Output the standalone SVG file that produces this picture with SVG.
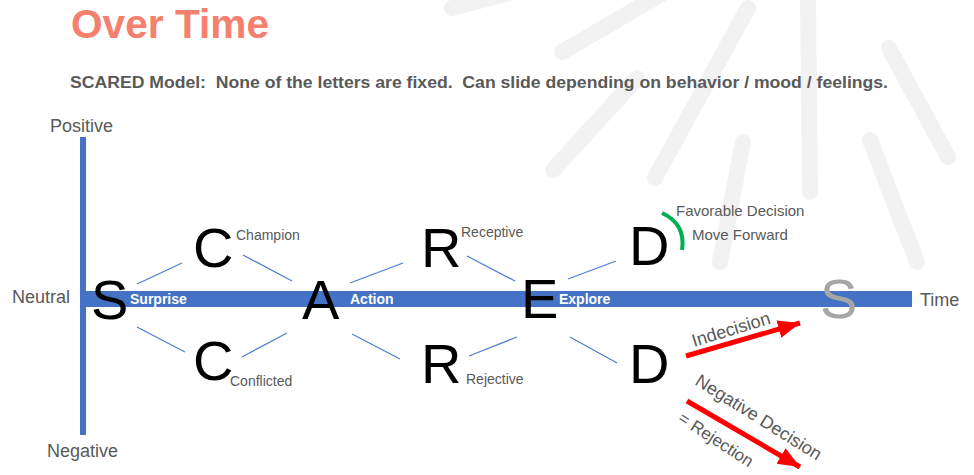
<svg xmlns="http://www.w3.org/2000/svg" width="974" height="475" viewBox="0 0 974 475">
<style>
text{font-family:"Liberation Sans",Arial,sans-serif}
.ray{stroke:#f2f2f2;stroke-width:16;stroke-linecap:round;fill:none}
.big{font-size:56px;fill:#000}
.lab{font-size:14px;fill:#595959}
.ax{font-size:18px;fill:#595959}
.bar{font-size:14px;font-weight:bold;fill:#fff}
.thin{stroke:#4f7fd0;stroke-width:1.3;fill:none}
.red{stroke:#ff0000;stroke-width:5;fill:none}
</style>
<defs>
<marker id="ah" markerUnits="userSpaceOnUse" markerWidth="24" markerHeight="20" refX="22" refY="10" orient="auto">
<path d="M0,1 L22,10 L0,19 z" fill="#ff0000"/>
</marker>
</defs>
<rect width="974" height="475" fill="#fff"/>
<g id="background">
<line class="ray" x1="452" y1="8" x2="540" y2="-15"/>
<line class="ray" x1="562" y1="52" x2="665" y2="-8"/>
<line class="ray" x1="553" y1="170" x2="637" y2="78"/>
<line class="ray" x1="655" y1="178" x2="748" y2="8"/>
<line class="ray" x1="808" y1="-5" x2="810" y2="192"/>
<line class="ray" x1="889" y1="48" x2="948" y2="157"/>
<line class="ray" x1="743" y1="142" x2="720" y2="262"/>
<line class="ray" x1="870" y1="140" x2="917" y2="262"/>
</g>
<g id="title">
<text x="71" y="38" font-size="40" font-weight="bold" fill="#f4806e" textLength="198" lengthAdjust="spacingAndGlyphs">Over Time</text>
<text x="70" y="88" font-size="16" font-weight="bold" fill="#595959" style="white-space:pre" textLength="818" lengthAdjust="spacingAndGlyphs">SCARED Model:  None of the letters are fixed.  Can slide depending on behavior / mood / feelings.</text>
</g>
<g id="axes">
<rect x="80" y="137" width="6" height="298" fill="#4472c4"/>
<rect x="80" y="291" width="832" height="16" fill="#4472c4"/>
<text class="ax" x="50" y="132">Positive</text>
<text class="ax" x="12" y="303">Neutral</text>
<text class="ax" x="47" y="457">Negative</text>
<text class="ax" x="920" y="306">Time</text>
</g>
<g id="connectors">
<line class="thin" x1="137" y1="284" x2="182" y2="263"/>
<line class="thin" x1="243" y1="255" x2="292" y2="281"/>
<line class="thin" x1="137" y1="327" x2="185" y2="352"/>
<line class="thin" x1="242" y1="357" x2="287" y2="333"/>
<line class="thin" x1="350" y1="283" x2="403" y2="263"/>
<line class="thin" x1="467" y1="256" x2="515" y2="281"/>
<line class="thin" x1="352" y1="334" x2="400" y2="359"/>
<line class="thin" x1="469" y1="356" x2="517" y2="337"/>
<line class="thin" x1="568" y1="279" x2="616" y2="261"/>
<line class="thin" x1="570" y1="337" x2="617" y2="363"/>
<line class="red" x1="686" y1="356" x2="800" y2="323" marker-end="url(#ah)"/>
<line class="red" x1="687" y1="401" x2="800" y2="467" marker-end="url(#ah)"/>
</g>
<g id="node-S">
<text class="big" x="91" y="319">S</text>
<text class="bar" x="130" y="304">Surprise</text>
</g>
<g id="node-C-top">
<text class="big" x="193" y="267">C</text>
<text class="lab" x="236" y="240">Champion</text>
</g>
<g id="node-C-bottom">
<text class="big" x="193" y="380">C</text>
<text class="lab" x="230" y="386">Conflicted</text>
</g>
<g id="node-A">
<text class="big" x="302" y="319">A</text>
<text class="bar" x="350" y="304">Action</text>
</g>
<g id="node-R-top">
<text class="big" x="421" y="267">R</text>
<text class="lab" x="461" y="237">Receptive</text>
</g>
<g id="node-R-bottom">
<text class="big" x="421" y="383">R</text>
<text class="lab" x="466" y="384">Rejective</text>
</g>
<g id="node-E">
<text class="big" x="521" y="318">E</text>
<text class="bar" x="559" y="304">Explore</text>
</g>
<g id="node-D-top">
<text class="big" x="629" y="265">D</text>
<path d="M662,213 Q686,224 682,250" stroke="#00b050" stroke-width="4" fill="none"/>
<text x="676" y="216" font-size="15" fill="#595959">Favorable Decision</text>
<text x="692" y="240" font-size="15" fill="#595959">Move Forward</text>
</g>
<g id="node-D-bottom">
<text class="big" x="629" y="383">D</text>
<text class="ax" transform="translate(694,347) rotate(-17)">Indecision</text>
<text class="ax" transform="translate(694,384) rotate(32)">Negative Decision</text>
<text class="ax" style="font-size:17px" transform="translate(677,421) rotate(33)">= Rejection</text>
</g>
<g id="node-S-end">
<text class="big" x="820" y="318" style="fill:#a6a6a6">S</text>
</g>
</svg>
